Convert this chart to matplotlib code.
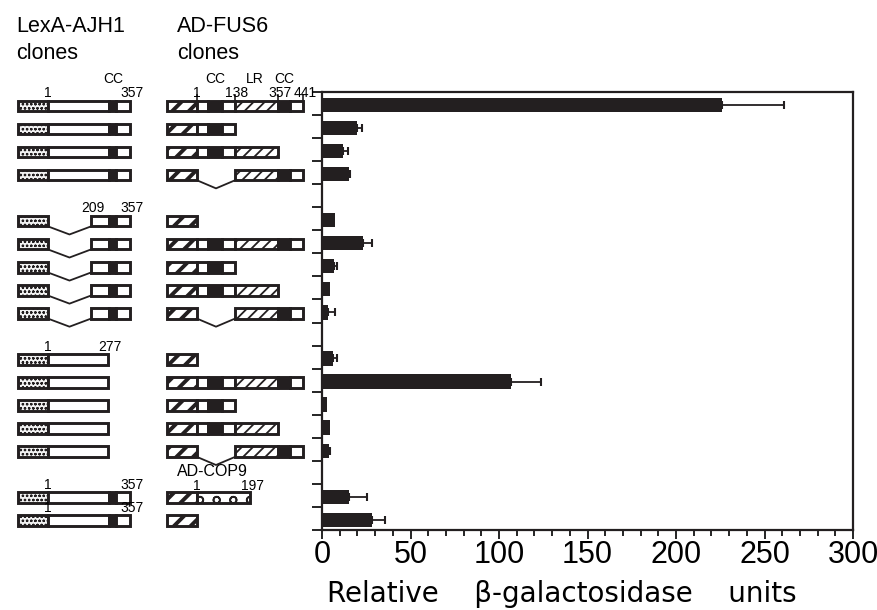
import matplotlib.pyplot as plt
import numpy as np
from matplotlib.patches import Rectangle

plt.rcParams['font.family'] = ['Liberation Sans', 'DejaVu Sans']
plt.rcParams['hatch.linewidth'] = 1.6

# ---- data -------------------------------------------------------------
# one entry per row slot, None = empty spacer row
beta_gal = [226, 20, 12, 15, None, 7.5, 23, 6.6, 4.7, 3.5, None,
            6.3, 107, 3.1, 4.8, 4.2, None, 15, 28.5]
beta_err = [35, 2.5, 2.5, 0.8, None, 0, 5, 2, 0, 4, None,
            2.2, 17, 0, 0, 0.6, None, 10.5, 7.3]

# LexA-AJH1 clones: residue range of AJH1 kept (None = spacer)
ajh1_rows = [(1, 357)] * 4 + [None] + [(209, 357)] * 5 + [None] + \
            [(1, 277)] * 5 + [None] + [(1, 357)] * 2
# AD-FUS6 clones: residue range of FUS6, () = AD alone, 'COP9' = AD-COP9
fus6_rows = [(1, 441), (1, 138), (1, 357), (138, 441), None,
             (), (1, 441), (1, 138), (1, 357), (138, 441), None,
             (), (1, 441), (1, 138), (1, 357), (138, 441), None,
             'COP9', ()]

ajh1_domains = [(279, 306, 'black')]                       # CC
fus6_domains = [(40, 90, 'black'), (138, 357, 'lr'), (357, 397, 'black')]
fus6_top_labels = [('CC', 65), ('LR', 240), ('CC', 377)]
fus6_numbers = [1, 138, 357, 441]
# residue numbers printed above particular AJH1 rows
ajh1_numbers = {0: [1, 357], 5: [209, 357], 11: [1, 277], 17: [1, 357], 18: [1, 357]}

xticks = [0, 50, 100, 150, 200, 250, 300]

# ---- figure -------------------------------------------------------------
W, H = 878, 610
fig = plt.figure(figsize=(W / 100, H / 100), dpi=100)
ink = '#231f20'

ax = fig.add_axes([322 / W, 80 / H, 531 / W, 438 / H])
n = len(beta_gal)
rows = np.arange(n)
has = np.array([v is not None for v in beta_gal])
vals = np.array([v if v is not None else 0 for v in beta_gal], float)
errs = np.array([e if e is not None else 0 for e in beta_err], float)

ax.barh(rows[has] + 0.56, vals[has], height=0.62, color=ink)
m = errs > 0
ax.errorbar(vals[m], rows[m] + 0.56, xerr=[np.zeros(m.sum()), errs[m]],
            fmt='none', ecolor=ink, elinewidth=1.3, capsize=3, capthick=1.5)

ax.set_xlim(0, 300)
ax.set_ylim(n, 0)
ax.set_xticks(xticks)
ax.set_xticks(np.arange(0, 301, 10), minor=True)
ax.set_yticks(np.arange(n + 1))
ax.set_yticklabels([])
ax.tick_params(axis='x', which='major', length=6.5, width=1.2, pad=1,
               labelsize=22, direction='out')
ax.tick_params(axis='x', which='minor', length=4.3, width=1.2)
ax.tick_params(axis='y', length=7, width=1.2, direction='out')
for s in ax.spines.values():
    s.set_linewidth(1.6)
    s.set_color(ink)

fig.text(327 / W, 1 - 602 / H, 'Relative    \u03b2-galactosidase    units',
         family='DejaVu Sans', fontsize=20, ha='left', va='baseline')

# ---- construct schematics ------------------------------------------------
sk = fig.add_axes([0, 80 / H, 322 / W, 438 / H])
sk.set_xlim(0, 322)
sk.set_ylim(n, 0)
sk.axis('off')

lexa_span = (18, 48)
ad_span = (167, 197)
def ajh1_x(r):
    return np.interp(r, [1, 209, 277, 357], [48, 91, 108, 130])
def fus6_x(r):
    return np.interp(r, [1, 138, 357, 441], [197, 235, 278, 303])
def cop9_x(r):
    return np.interp(r, [1, 197], [197, 250])

styles = {
    'white': dict(facecolor='white'),
    'black': dict(facecolor=ink),
    'lexa': dict(facecolor='#f2f2f2', hatch='oooo'),
    'ad': dict(facecolor='white', hatch='//'),
    'lr': dict(facecolor='white', hatch='///'),
    'cop9': dict(facecolor='white', hatch='o'),
}
hatch_lw = {'lexa': 0.6, 'ad': 2.8, 'lr': 1.3, 'cop9': 1.2}
bh = 0.46

def split(a, b, domains):
    out, cur = [], a
    for s, e, kind in domains:
        s2, e2 = max(s, a), min(e, b)
        if s2 >= e2:
            continue
        if s2 > cur:
            out.append((cur, s2, 'white'))
        out.append((s2, e2, kind))
        cur = e2
    if cur < b:
        out.append((cur, b, 'white'))
    return out

def box(x0, x1, y, kind):
    p = Rectangle((x0, y - bh / 2), x1 - x0, bh, edgecolor=ink,
                  lw=2.1, clip_on=False, **styles[kind])
    if kind in hatch_lw:
        try:
            p.set_hatch_linewidth(hatch_lw[kind])
        except AttributeError:
            pass
    sk.add_patch(p)

def gap(x0, x1, y):
    xm = (x0 + x1) / 2
    sk.plot([x0, xm, x1], [y + bh / 2, y + bh / 2 + 0.35, y + bh / 2],
            color=ink, lw=1.3, clip_on=False)

def construct(y, start, rng, domains, xmap, first_kind):
    box(start[0], start[1], y, first_kind)
    if not rng:
        return
    a, b = rng
    if a > 1:
        gap(start[1], xmap(a), y)
    for s, e, kind in split(a, b, domains):
        box(xmap(s), xmap(e), y, kind)

small = dict(fontsize=10, ha='center', va='center', clip_on=False)
for i, (ra, rf) in enumerate(zip(ajh1_rows, fus6_rows)):
    y = i + 0.6
    if ra is not None:
        construct(y, lexa_span, ra, ajh1_domains, ajh1_x, 'lexa')
    if i in ajh1_numbers:
        for r in ajh1_numbers[i]:
            sk.text(ajh1_x(r) + (2 if r > 1 else 0), y - 0.56, str(r), **small)
    if rf == 'COP9':
        box(ad_span[0], ad_span[1], y, 'ad')
        box(cop9_x(1), cop9_x(197), y, 'cop9')
        sk.text(cop9_x(1), y - 0.52, '1', **small)
        sk.text(cop9_x(197) + 3, y - 0.52, '197', **small)
        sk.text(212, y - 1.15, 'AD-COP9', fontsize=11.5, ha='center',
                va='center', clip_on=False)
    elif rf is not None:
        construct(y, ad_span, rf, fus6_domains, fus6_x, 'ad')

# labels above the first row
y0 = 0.6
sk.text(ajh1_x(296), y0 - 1.16, 'CC', **small)
for lab, r in fus6_top_labels:
    sk.text(fus6_x(r), y0 - 1.16, lab, **small)
for r in fus6_numbers:
    sk.text(fus6_x(r) + (2 if r > 1 else 0), y0 - 0.56, str(r), **small)
    sk.plot([fus6_x(r)] * 2, [y0 - 0.45, y0 - bh / 2], color=ink, lw=1.2,
            clip_on=False)

fig.text(16 / W, 1 - 32 / H, 'LexA-AJH1', fontsize=15.5, va='baseline')
fig.text(16 / W, 1 - 59 / H, 'clones', fontsize=15.5, va='baseline')
fig.text(177 / W, 1 - 32 / H, 'AD-FUS6', fontsize=15.5, va='baseline')
fig.text(177 / W, 1 - 59 / H, 'clones', fontsize=15.5, va='baseline')

fig.savefig('out.png', dpi=100)
